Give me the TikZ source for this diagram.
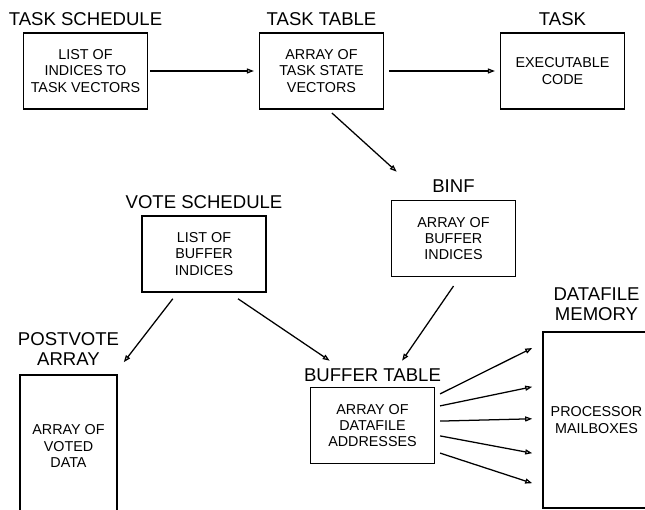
\documentclass[tikz,border=0pt]{standalone}
\usepackage{fontspec}
\setmainfont{Liberation Sans}
\usetikzlibrary{positioning,arrows.meta}

\begin{document}
\begin{tikzpicture}
\tikzset{
  blk/.style={draw=black, line width=1.1pt, minimum width=3.1cm, minimum height=1.9cm,
    align=center, inner sep=1pt, font=\fontsize{10.2}{11.6}\selectfont},
  ttl/.style={inner sep=0pt, align=center, font=\fontsize{13.2}{14.5}\selectfont},
  arr/.style={draw=black, line width=0.9pt, -{Triangle[open,length=5pt,width=3.6pt]}}
}
\useasboundingbox (0,0) rectangle (16.125,12.75);

% tables
\node[blk] (ts) at (2.1375,10.975) {LIST OF\\INDICES TO\\TASK VECTORS};
\node[blk] (tt) at (8.0375,10.975) {ARRAY OF\\TASK STATE\\VECTORS};
\node[blk] (tk) at (14.0625,10.975) {EXECUTABLE\\CODE};
\node[blk] (vs) at (5.1,6.4) {LIST OF\\BUFFER\\INDICES};
\node[blk] (bi) at (11.3375,6.7875) {ARRAY OF\\BUFFER\\INDICES};
\node[blk, minimum width=2.425cm, minimum height=3.55cm] (pv) at (1.7125,1.6) {ARRAY OF\\VOTED\\DATA};
\node[blk] (bt) at (9.3125,2.1125) {ARRAY OF\\DATAFILE\\ADDRESSES};
\node[blk, minimum width=2.675cm, minimum height=4.4cm] (dm) at (14.9125,2.25) {PROCESSOR\\MAILBOXES};

% titles
\node[ttl, above=0.15cm of ts] (tst) {TASK SCHEDULE};
\node[ttl, above=0.15cm of tt] (ttt) {TASK TABLE};
\node[ttl, above=0.15cm of tk] (tkt) {TASK};
\node[ttl, above=0.15cm of vs] (vst) {VOTE SCHEDULE};
\node[ttl, above=0.17cm of bi] (bit) {BINF};
\node[ttl, above=0.2cm of pv] (pvt) {POSTVOTE\\ARRAY};
\node[ttl, above=0.13cm of bt] (btt) {BUFFER TABLE};
\node[ttl, above=0.25cm of dm] (dmt) {DATAFILE\\MEMORY};

% links
\draw[arr, shorten <=0.05cm, shorten >=0.12cm] (ts.east) -- (tt.west);
\draw[arr, shorten <=0.12cm, shorten >=0.12cm] (tt.east) -- (tk.west);
\draw[arr] ([shift={(0.26,-0.08)}]tt.south) -- ([shift={(0.15,0.7)}]bi.north west);
\draw[arr] ([shift={(-0.78,-0.15)}]vs.south) -- ([shift={(0.15,0.3)}]pv.north east);
\draw[arr] ([shift={(0.85,-0.15)}]vs.south) -- ([shift={(0.5,0.65)}]bt.north west);
\draw[arr] ([shift={(0,-0.22)}]bi.south) -- ([shift={(0.74,0.65)}]bt.north);
\foreach \a/\b in {0.79/1.8, 0.49/0.83, 0.11/0.03, -0.26/-0.83, -0.69/-1.58}
  \draw[arr] ([shift={(0.12,\a)}]bt.east) -- ([shift={(-0.25,\b)}]dm.west);
\end{tikzpicture}
\end{document}
